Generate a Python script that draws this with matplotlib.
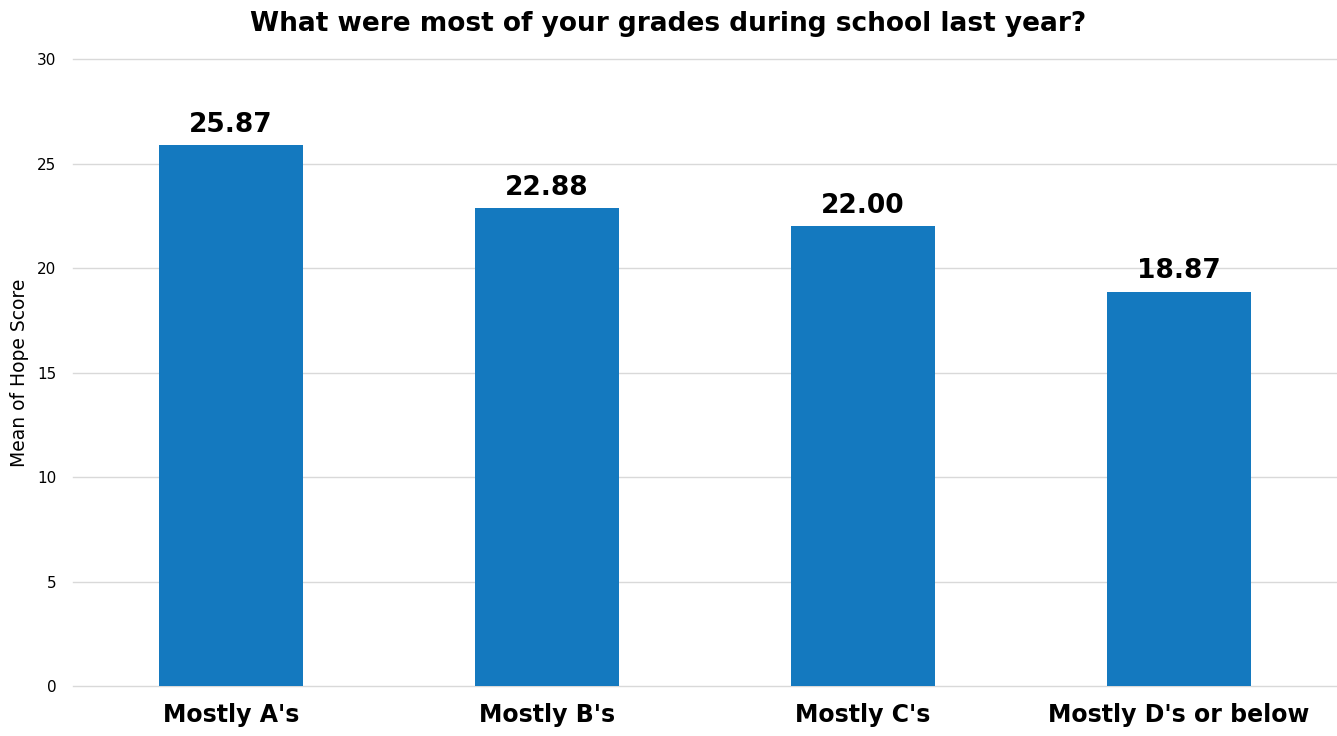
import matplotlib.pyplot as plt
import numpy as np

# ---------------------------------------------------------------------------
# Data
# ---------------------------------------------------------------------------
categories = ["Mostly A's", "Mostly B's", "Mostly C's", "Mostly D's or below"]
mean_hope = [25.87, 22.88, 22.00, 18.87]
y_ticks = [0, 5, 10, 15, 20, 25, 30]

BAR_COLOR = "#1479BF"
plt.rcParams["font.family"] = ["DejaVu Sans"]

fig = plt.figure(figsize=(13.37, 7.36), dpi=100)
ax = fig.add_axes([0.0546, 0.0679, 0.9454, 0.8519])

x = np.arange(len(categories))
ax.bar(x, mean_hope, width=0.456, color=BAR_COLOR, zorder=3)

for xi, v in zip(x, mean_hope):
    ax.text(xi, v + 0.35, f"{v:.2f}", ha="center", va="bottom",
            fontsize=19, fontweight="bold", color="black")

ax.set_xlim(-0.5, 3.5)
ax.set_ylim(0, 30)
ax.set_yticks(y_ticks)
ax.set_yticklabels([str(t) for t in y_ticks], fontsize=11)
ax.set_xticks(x)
ax.set_xticklabels(categories, fontsize=17, fontweight="bold")
ax.tick_params(axis="both", length=0)
ax.tick_params(axis="x", pad=12)
ax.tick_params(axis="y", pad=12)
ax.grid(axis="y", color="#d9d9d9", linewidth=1, zorder=0)
for gl in ax.get_ygridlines():
    gl.set_clip_on(False)
for s in ax.spines.values():
    s.set_visible(False)

ax.set_ylabel("Mean of Hope Score", fontsize=13.5)
ax.yaxis.set_label_coords(-0.035, 0.5)
fig.text(0.5, 0.967, "What were most of your grades during school last year?",
         ha="center", va="center", fontsize=19, fontweight="bold")

fig.savefig("out.png", dpi=100)
